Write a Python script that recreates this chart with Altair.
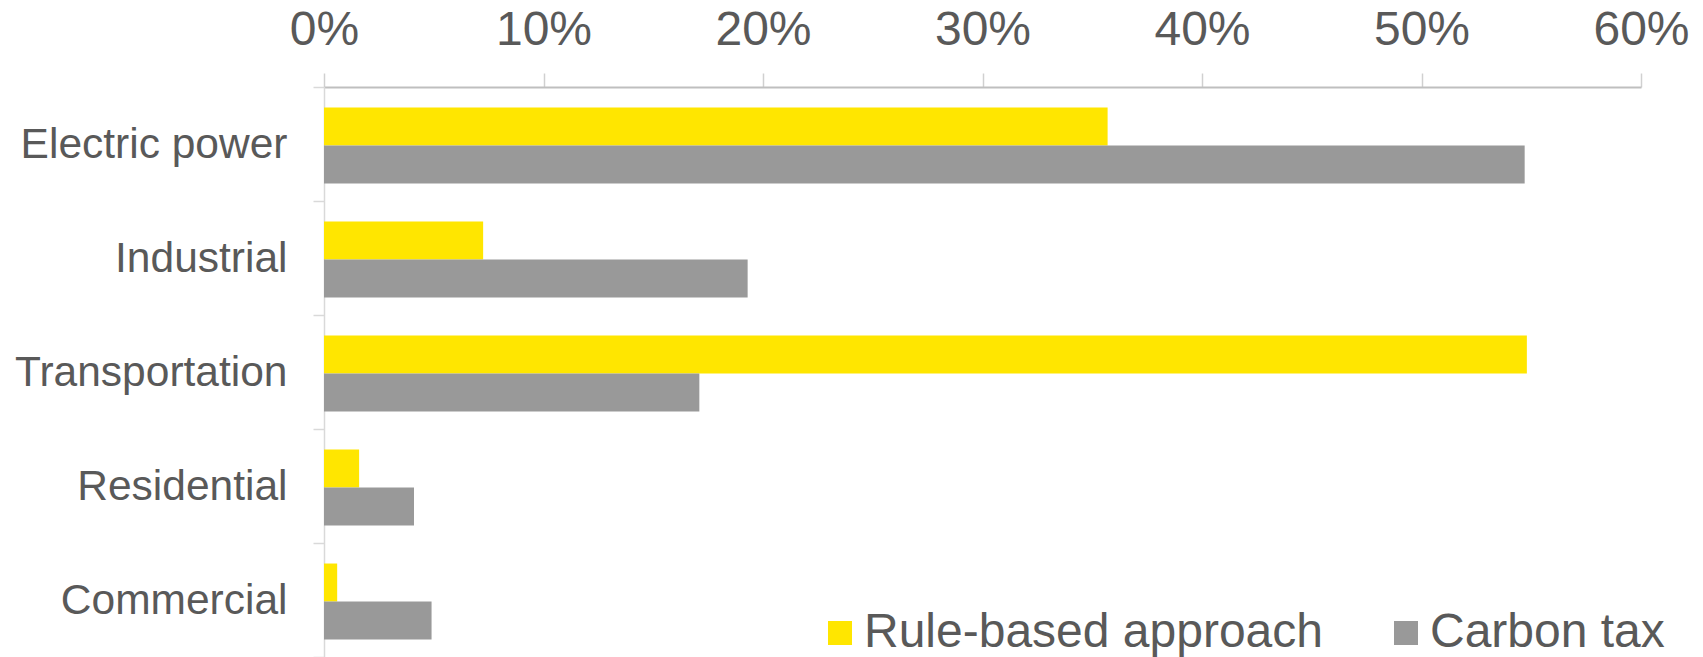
import altair as alt
import pandas as pd

categories = ["Electric power", "Industrial", "Transportation", "Residential", "Commercial"]
series_names = ["Rule-based approach", "Carbon tax"]
rule_based = [0.357, 0.0725, 0.548, 0.016, 0.006]
carbon_tax = [0.547, 0.193, 0.171, 0.041, 0.049]
x_ticks = [0.0, 0.1, 0.2, 0.3, 0.4, 0.5, 0.6]
colors = ["#FFE600", "#999999"]

rows = []
for c, a, b in zip(categories, rule_based, carbon_tax):
    rows.append({"sector": c, "series": series_names[0], "value": a})
    rows.append({"sector": c, "series": series_names[1], "value": b})
df = pd.DataFrame(rows)

FONT = "Liberation Sans"
TXT = "#595959"

chart = alt.Chart(df).mark_bar().encode(
    x=alt.X("value:Q",
            scale=alt.Scale(domain=[0, 0.6], nice=False, zero=True),
            axis=alt.Axis(orient="top", values=x_ticks, format=".0%", title=None, grid=False,
                          domainColor="#BFBFBF", domainWidth=2, tickColor="#D0D0D0",
                          tickSize=14, tickWidth=1.5, labelFont=FONT, labelFontSize=48,
                          labelColor=TXT, labelPadding=19, labelFlush=False)),
    y=alt.Y("sector:N", sort=categories,
            scale=alt.Scale(paddingInner=0, paddingOuter=0),
            axis=alt.Axis(title=None, tickBand="extent", domainColor="#D9D9D9", domainWidth=1.5,
                          tickColor="#D9D9D9", tickWidth=1.5, tickSize=11, labelFont=FONT,
                          labelFontSize=42.5, labelColor=TXT, labelPadding=26, labelLimit=0)),
    yOffset=alt.YOffset("series:N", sort=series_names,
                        scale=alt.Scale(paddingInner=0, paddingOuter=0.5, align=0.54)),
    color=alt.Color("series:N", sort=series_names,
                    scale=alt.Scale(domain=series_names, range=colors),
                    legend=alt.Legend(orient="none", legendX=492, legendY=522, direction="horizontal",
                                      title=None, symbolType="square", symbolSize=576,
                                      symbolStrokeWidth=0, labelFont=FONT, labelFontSize=48,
                                      labelColor=TXT, labelLimit=0, columnPadding=59,
                                      labelOffset=0)),
).properties(
    width=1317, height=570,
    autosize=alt.AutoSizeParams(type="none"),
    padding={"left": 316, "top": 79, "right": 54, "bottom": 0},
).configure_view(stroke=None)

chart.save("out.html", embed_options={"renderer": "svg", "actions": False})
